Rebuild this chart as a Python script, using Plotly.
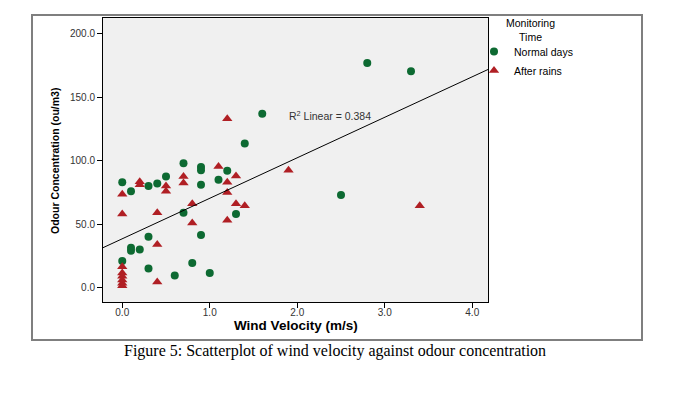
import plotly.graph_objects as go

# ---- data ----
normal_x = [0.0, 0.1, 0.3, 0.4, 0.5, 0.7, 0.9, 0.9, 0.9, 1.1, 1.2, 0.7, 1.3, 0.9,
            0.3, 0.1, 0.1, 0.2, 0.0, 0.3, 0.8, 0.6, 1.0, 1.4, 1.6, 2.8, 3.3, 2.5]
normal_y = [83, 76, 80, 82, 87.5, 98, 95, 92.5, 81, 85, 92, 59, 58, 41.5,
            40, 31.5, 29, 30, 21, 15, 19.5, 9.5, 11.5, 113.5, 137, 177, 170.5, 73]

rain_x = [0.0, 0.0, 0.2, 0.2, 0.4, 0.5, 0.5, 0.7, 0.7, 0.8, 0.8, 1.1, 1.2, 1.2, 1.3,
          1.3, 1.4, 1.2, 1.9, 0.4, 0.4, 0.0, 0.0, 0.0, 0.0, 0.0, 0.0, 1.2, 3.4]
rain_y = [73.5, 58, 83.5, 81, 59, 80, 76, 87.5, 82.5, 66, 51, 95.5, 83, 75, 88,
          66, 64.5, 53, 92.5, 34, 4.5, 16.5, 11.5, 9, 6, 3.5, 1.5, 133, 64.5]

fit_intercept = 38.5
fit_slope = 31.9
r2_text = "R<sup>2</sup> Linear = 0.384"

x_ticks = [0, 1, 2, 3, 4]
y_ticks = [0, 50, 100, 150, 200]
x_range = [-0.22, 4.18]
y_range = [-11.3, 212.4]

GREEN = "#0d6a32"
RED = "#b01f24"
SANS = "Liberation Sans, Arial, sans-serif"

fig = go.Figure()
fig.add_trace(go.Scatter(
    x=normal_x, y=normal_y, mode="markers", name="Normal days",
    marker=dict(symbol="circle", size=8, color=GREEN, line=dict(width=0)),
))
fig.add_trace(go.Scatter(
    x=rain_x, y=rain_y, mode="markers", name="After rains",
    marker=dict(symbol="triangle-up", size=9, color=RED, line=dict(width=0)),
))
fit_x = [x_range[0], x_range[1]]
fit_y = [fit_intercept + fit_slope * v for v in fit_x]
fig.add_trace(go.Scatter(
    x=fit_x, y=fit_y, mode="lines", showlegend=False, hoverinfo="skip",
    line=dict(color="black", width=1),
))

fig.add_annotation(
    x=1.88, y=135.6, xref="x", yref="y", text=r2_text, showarrow=False,
    xanchor="left", yanchor="middle",
    font=dict(family=SANS, size=10.5, color="#333333"),
)

# the page has an 8px body margin; positions below are page pixels
OFF = 8
W, H = 675 - 2 * OFF, 394 - 2 * OFF
L, R, T, B = 103 - OFF, 488 - OFF, 18 - OFF, 302 - OFF


def px(xp):
    return (xp - OFF - L) / (R - L)


def py(yp):
    return (B - (yp - OFF)) / (B - T)


tick_font = dict(family=SANS, size=10, color="#333333")

fig.update_layout(
    width=W, height=H,
    margin=dict(l=L, r=W - R, t=T, b=H - B, pad=0),
    paper_bgcolor="white",
    plot_bgcolor="#f0f0f0",
    showlegend=True,
    legend=dict(
        x=px(474), y=py(37), xanchor="left", yanchor="top",
        bgcolor="rgba(0,0,0,0)", borderwidth=0, tracegroupgap=0,
        font=dict(family=SANS, size=10.5, color="black"),
    ),
    xaxis=dict(
        range=x_range, tickvals=x_ticks, tickformat=".1f",
        showgrid=False, zeroline=False,
        showline=True, linecolor="black", linewidth=1, mirror=True,
        ticks="outside", ticklen=5, tickcolor="black", tickwidth=1,
        tickfont=tick_font, ticklabelstandoff=-4,
    ),
    yaxis=dict(
        range=y_range, tickvals=y_ticks, tickformat=".1f",
        showgrid=False, zeroline=False,
        showline=True, linecolor="black", linewidth=1, mirror=True,
        ticks="outside", ticklen=5, tickcolor="black", tickwidth=1,
        tickfont=tick_font,
    ),
)

# legend title
fig.add_annotation(
    x=px(530), y=py(29.5), xref="paper", yref="paper", showarrow=False,
    text="Monitoring<br>Time", xanchor="center", yanchor="middle", align="center",
    font=dict(family=SANS, size=10.5, color="black"),
)

# axis titles
fig.add_annotation(
    x=px(296), y=py(326), xref="paper", yref="paper", showarrow=False,
    text="<b>Wind Velocity (m/s)</b>", xanchor="center", yanchor="middle",
    font=dict(family=SANS, size=13.5, color="black"),
)
fig.add_annotation(
    x=px(55), y=py(161), xref="paper", yref="paper", showarrow=False,
    text="<b>Odour Concentration (ou/m3)</b>", textangle=-90,
    xanchor="center", yanchor="middle",
    font=dict(family=SANS, size=10.5, color="black"),
)

# caption
fig.add_annotation(
    x=px(335), y=py(351), xref="paper", yref="paper", showarrow=False,
    text="Figure 5: Scatterplot of wind velocity against odour concentration",
    xanchor="center", yanchor="middle",
    font=dict(family="Liberation Serif, Times New Roman, serif", size=16, color="black"),
)

# outer grey frame
fig.add_shape(
    type="rect", xref="paper", yref="paper",
    x0=px(32), x1=px(642), y0=py(340), y1=py(15),
    line=dict(color="#7f7f7f", width=2), fillcolor="rgba(0,0,0,0)", layer="below",
)

fig.write_html("out.html")
